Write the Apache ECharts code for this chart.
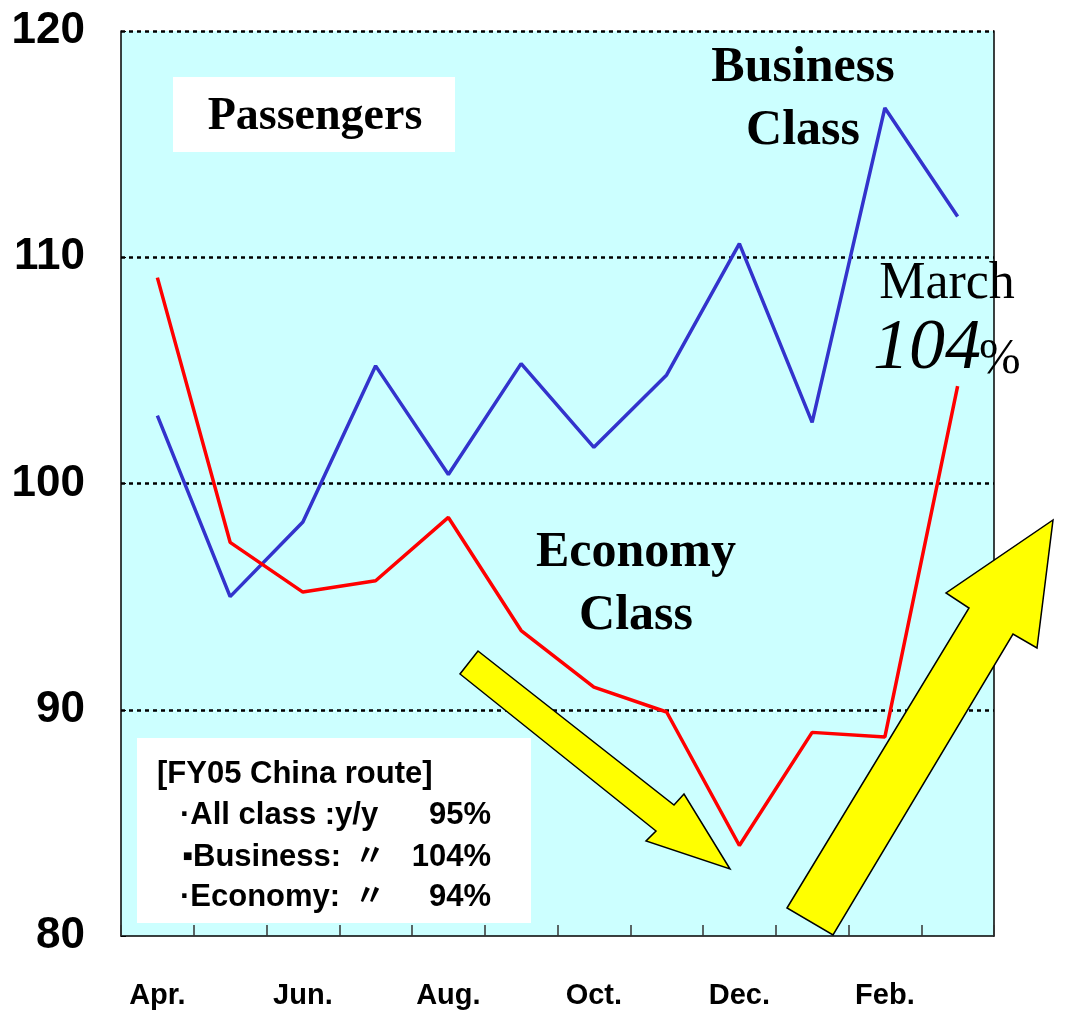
<!DOCTYPE html>
<html>
<head>
<meta charset="utf-8">
<script src="https://cdn.jsdelivr.net/npm/echarts@6/dist/echarts.min.js"></script>
<style>
html,body{margin:0;padding:0;background:#fff;}
#chart{width:1065px;height:1016px;}
</style>
</head>
<body>
<div id="chart"></div>
<script>
const months = ['Apr.','May','Jun.','Jul.','Aug.','Sep.','Oct.','Nov.','Dec.','Jan.','Feb.','Mar.'];
const businessValues = [103.0, 95.0, 98.3, 105.2, 100.4, 105.3, 101.6, 104.8, 110.6, 102.7, 116.6, 111.8];
const economyValues = [109.1, 97.4, 95.2, 95.7, 98.5, 93.5, 91.0, 89.9, 84.0, 89.0, 88.8, 104.3];
const yMin = 80, yMax = 120, yStep = 10;

const sans = '"Liberation Sans",Arial,sans-serif';
const serif = '"Liberation Serif","Times New Roman",serif';
const gothic = '"Liberation Sans","Noto Sans CJK JP",sans-serif';

const chart = echarts.init(document.getElementById('chart'), null, {renderer:'canvas'});

function txt(x, y, text, opts) {
  return Object.assign({type:'text', z:120, style:Object.assign({x:x, y:y, text:text, fill:'#000', textVerticalAlign:'middle'}, opts)});
}

const info = [
  {type:'rect', z:110, shape:{x:137, y:738, width:394, height:185}, style:{fill:'#fff'}},
  txt(157, 774, '[FY05 China route]', {font:'bold 31px ' + gothic, textAlign:'left'}),
  txt(180, 815, '\u00B7All class :y/y', {font:'bold 31px ' + gothic, textAlign:'left'}),
  txt(491, 815, '95%', {font:'bold 31px ' + gothic, textAlign:'right'}),
  txt(182, 857, '\u25AABusiness:', {font:'bold 31px ' + gothic, textAlign:'left'}),
  txt(370, 857, '\u3003', {font:'bold 30px ' + gothic, textAlign:'center'}),
  txt(491, 857, '104%', {font:'bold 31px ' + gothic, textAlign:'right'}),
  txt(180, 897, '\u00B7Economy:', {font:'bold 31px ' + gothic, textAlign:'left'}),
  txt(370, 897, '\u3003', {font:'bold 30px ' + gothic, textAlign:'center'}),
  txt(491, 897, '94%', {font:'bold 31px ' + gothic, textAlign:'right'})
];

const option = {
  animation: false,
  backgroundColor: '#fff',
  grid: {left:121, right:71, top:31, bottom:80, show:true, backgroundColor:'#CCFFFF', borderWidth:0, containLabel:false, outerBoundsMode:'none'},
  xAxis: {
    type:'category', data: months, boundaryGap: true, z:10,
    axisLine:{show:true, lineStyle:{color:'#000', width:1.5}},
    axisTick:{show:true, inside:true, length:11, interval:0, lineStyle:{color:'#333', width:1.5}},
    axisLabel:{interval:1, margin:45, color:'#000', fontFamily:sans, fontWeight:'bold', fontSize:29},
    splitLine:{show:false}
  },
  yAxis: [{
    type:'value', min:yMin, max:yMax, interval:yStep,
    axisLine:{show:true, lineStyle:{color:'#000', width:1.5}},
    axisTick:{show:true, inside:true, length:5, lineStyle:{color:'#000'}},
    axisLabel:{margin:36, color:'#000', fontFamily:sans, fontWeight:'bold', fontSize:44},
    splitLine:{show:true, showMinLine:false, lineStyle:{color:'#000', type:[4,4], width:2.5}}
  },{
    type:'value', min:yMin, max:yMax, interval:yStep, position:'right',
    axisLine:{show:true, lineStyle:{color:'#000', width:1.5}},
    axisTick:{show:false}, axisLabel:{show:false}, splitLine:{show:false}
  }],
  series: [
    {name:'Business Class', type:'line', data: businessValues, symbol:'none', lineStyle:{color:'#3333CC', width:3.5}, z:5},
    {name:'Economy Class', type:'line', data: economyValues, symbol:'none', lineStyle:{color:'#FF0000', width:3.5}, z:5}
  ],
  graphic: [
    {type:'rect', z:110, shape:{x:173, y:77, width:282, height:75}, style:{fill:'#fff'}},
    txt(315, 117, 'Passengers', {font:'bold 46px ' + serif, textAlign:'center'}),
    txt(803, 68, 'Business', {font:'bold 50px ' + serif, textAlign:'center'}),
    txt(803, 131, 'Class', {font:'bold 50px ' + serif, textAlign:'center'}),
    txt(636, 553, 'Economy', {font:'bold 50px ' + serif, textAlign:'center'}),
    txt(636, 616, 'Class', {font:'bold 50px ' + serif, textAlign:'center'}),
    txt(947, 284, 'March', {font:'52px ' + serif, textAlign:'center'}),
    {type:'text', z:120, style:{x:873, y:385, text:'104', font:'italic 72px ' + serif, fill:'#000', textAlign:'left', textVerticalAlign:'bottom'}},
    {type:'text', z:120, style:{x:979, y:385, text:'%', font:'50px ' + serif, fill:'#000', textAlign:'left', textVerticalAlign:'bottom'}},
    {type:'polygon', z:100, shape:{points:[[478,651],[674,805],[684,794],[730,869],[646,841],[656,831],[460,674]]}, style:{fill:'#FFFF00', stroke:'#000', lineWidth:1.5}},
    {type:'polygon', z:100, shape:{points:[[787,908],[969,608],[946,593],[1053,520],[1037,648],[1013,634],[833,935]]}, style:{fill:'#FFFF00', stroke:'#000', lineWidth:1.5}}
  ].concat(info)
};
chart.setOption(option);
</script>
</body>
</html>
